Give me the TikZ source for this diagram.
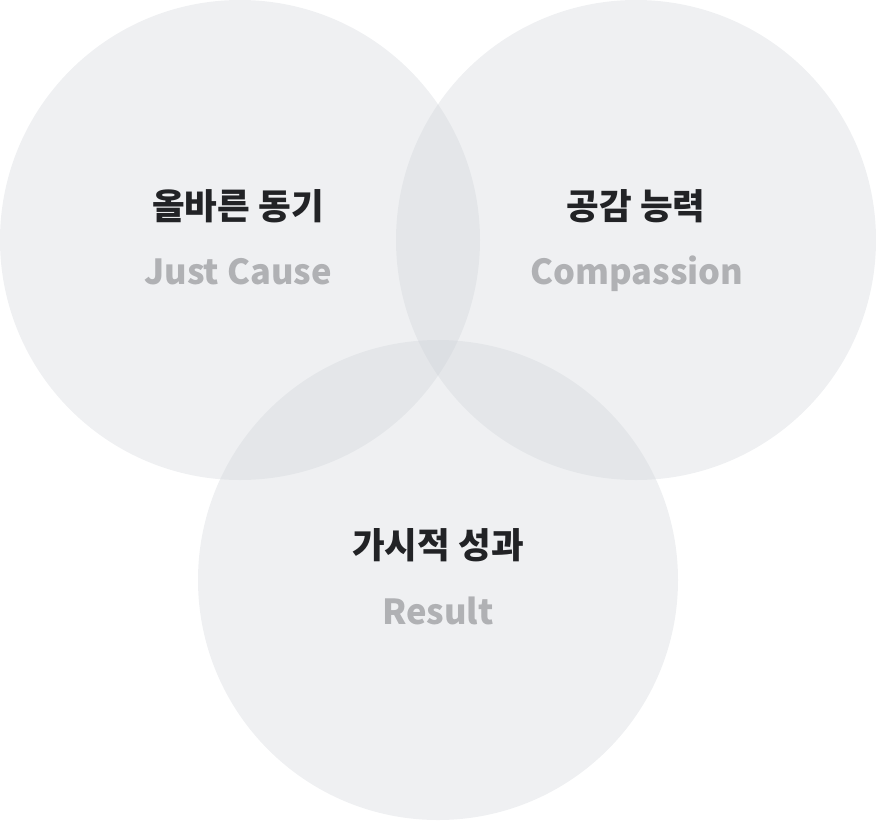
\documentclass[tikz,border=0pt]{standalone}
\usepackage{fontspec}
\newfontfamily\kr{Noto Sans CJK KR}
\definecolor{circfill}{RGB}{203,207,213}
\definecolor{titletext}{RGB}{34,35,38}
\definecolor{subtext}{RGB}{176,177,180}
\begin{document}
\begin{tikzpicture}[x=1pt,y=-1pt,
    circ/.style ={circle, fill=circfill, fill opacity=0.31, draw=none, minimum size=480pt, inner sep=0pt},
    title/.style ={font=\kr\bfseries\fontsize{35.5}{40}\selectfont, text=titletext},
    sub/.style ={font=\kr\bfseries\fontsize{34.5}{40}\selectfont, text=subtext}]
   \useasboundingbox (0,0) rectangle (876,820);
   \node[circ] (C1) at (240,240) {};
   \node[circ] (C2) at (636,240) {};
   \node[circ] (C3) at (438,580) {};
   \node[title] (T1) at (238,206) {올바른 동기};
   \node[sub]   (S1) at (238,272) {Just Cause};
   \node[title] (T2) at (636,206) {공감 능력};
   \node[sub]   (S2) at (637,274) {Compassion};
   \node[title] (T3) at (438,545) {가시적 성과};
   \node[sub]   (S3) at (438,611) {Result};
 \end{tikzpicture}
\end{document}
